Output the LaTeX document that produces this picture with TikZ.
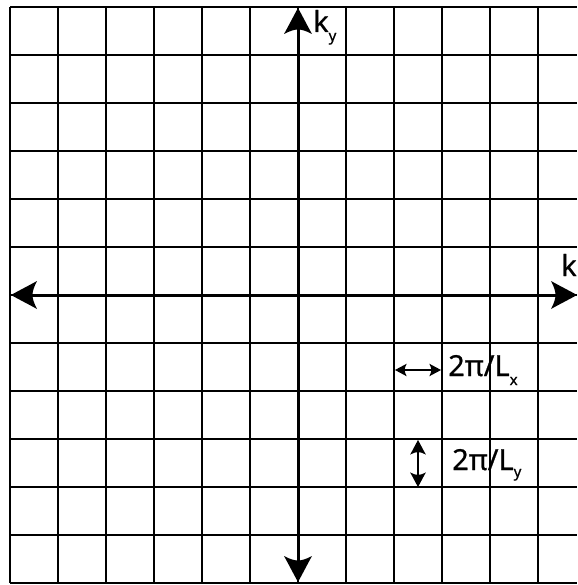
\documentclass[tikz,border=0pt]{standalone}
\usepackage{fontspec}
\setmainfont{Noto Sans}[FakeBold=0.6]
\tikzset{
  gridline/.style={line width=1.1pt, black},
  axis/.style={line width=3pt, black, shorten <=12pt, shorten >=12pt},
  dbl/.style={line width=2pt, black, shorten <=5pt, shorten >=5pt},
  bighead/.pic={\fill[black] (0,0) .. controls (-9,5) and (-18,9.5) .. (-26,14)
     .. controls (-23,8.5) and (-21.5,3.5) .. (-21.5,0)
     .. controls (-21.5,-3.5) and (-23,-8.5) .. (-26,-14)
     .. controls (-18,-9.5) and (-9,-5) .. cycle;},
  lbl/.style={inner sep=0pt, anchor=base west, font=\fontsize{29}{29}\selectfont}
}
\newcommand{\mysub}[2]{\raisebox{-#1}{\fontsize{15}{15}\selectfont #2}}
\begin{document}
\begin{tikzpicture}[x=1pt,y=-1pt]
\useasboundingbox (0,0) rectangle (577,585);
\fill[white] (0,0) rectangle (577,585);
% grid
\foreach \i in {0,...,11} {
  \draw[gridline] ({10+48*\i},7) -- ({10+48*\i},583);
}
\foreach \j in {0,...,12} {
  \draw[gridline] (10,{7+48*\j}) -- (577,{7+48*\j});
}
% axes
\coordinate (xl) at (11,295);
\coordinate (xr) at (577,295);
\coordinate (yt) at (298,8);
\coordinate (yb) at (298,582);
\draw[axis] (xl) -- (xr);
\draw[axis] (yt) -- (yb);
\pic[rotate=180] at (xl) {bighead};
\pic at (xr) {bighead};
\pic[rotate=90] at (yt) {bighead};
\pic[rotate=-90] at (yb) {bighead};
% labels
\node[lbl] (ky) at (313,32) {k\mysub{9pt}{y}};
\node[lbl] (kx) at (561,276) {k};
% small arrows
\coordinate (hxa) at (395,370);
\coordinate (hxb) at (441,370);
\draw[dbl] (hxa) -- (hxb);
\pic[rotate=180,scale=0.45] at (hxa) {bighead};
\pic[scale=0.45] at (hxb) {bighead};
\node[lbl] (lx) at (448,376) {2π/L\mysub{9pt}{x}};
\coordinate (vya) at (418,440);
\coordinate (vyb) at (418,487);
\draw[dbl] (vya) -- (vyb);
\pic[rotate=90,scale=0.56] at (vya) {bighead};
\pic[rotate=-90,scale=0.56] at (vyb) {bighead};
\node[lbl] (ly) at (452,470) {2π/L\mysub{7pt}{y}};
\end{tikzpicture}
\end{document}
